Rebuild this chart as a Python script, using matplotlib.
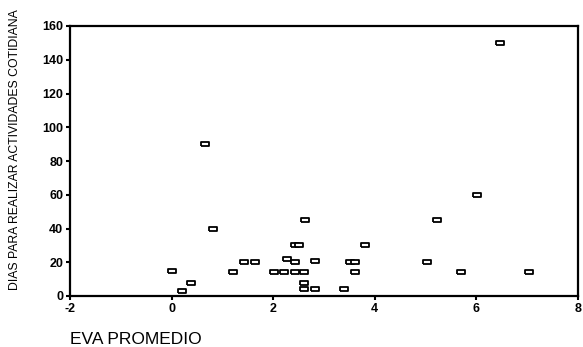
import matplotlib.pyplot as plt
import numpy as np

# EVA promedio vs dias para realizar actividades cotidianas
eva = [0.0, 0.2, 0.39, 0.65, 0.81, 1.2, 1.43, 1.65, 2.02, 2.22, 2.28, 2.42, 2.42,
       2.42, 2.51, 2.63, 2.6, 2.6, 2.6, 2.83, 2.83, 3.4, 3.52, 3.62, 3.62, 3.81,
       5.03, 5.22, 5.7, 6.02, 6.46, 7.03]
dias = [15, 3, 8, 90, 40, 14, 20, 20, 14, 14, 22, 20, 14,
        30, 30, 45, 14, 8, 4, 4, 21, 4, 20, 20, 14, 30,
        20, 45, 14, 60, 150, 14]

xticks = [-2, 0, 2, 4, 6, 8]
yticks = [0, 20, 40, 60, 80, 100, 120, 140, 160]

plt.rcParams['font.family'] = ['Liberation Sans', 'DejaVu Sans']
plt.rcParams['axes.unicode_minus'] = False

fig = plt.figure(figsize=(5.83, 3.47), dpi=100)
ax = fig.add_axes([70 / 583, 1 - 296 / 347, 508 / 583, 270 / 347])

# small flat rectangle like the original scan
rect = [(-1, -0.65), (1, -0.65), (1, 0.65), (-1, 0.65), (-1, -0.65)]
ax.plot(eva, dias, linestyle='none', marker=rect, markersize=5.5,
        markerfacecolor='white', markeredgecolor='black', markeredgewidth=1.3)

ax.set_xlim(-2, 8)
ax.set_ylim(0, 160)
ax.set_xticks(xticks)
ax.set_yticks(yticks)
ax.tick_params(direction='out', length=3, width=1.5, labelsize=9, pad=2)
for lab in ax.get_xticklabels() + ax.get_yticklabels():
    lab.set_fontweight('bold')
for s in ax.spines.values():
    s.set_linewidth(1.6)

fig.text(15 / 583, 1 - 150 / 347, 'DIAS PARA REALIZAR ACTIVIDADES COTIDIANA',
         rotation=90, ha='center', va='center', fontsize=8.8)
fig.text(70 / 583, 1 - 340 / 347, 'EVA PROMEDIO', ha='left', va='center',
         fontsize=12.5)

fig.savefig('out.png', dpi=100)
